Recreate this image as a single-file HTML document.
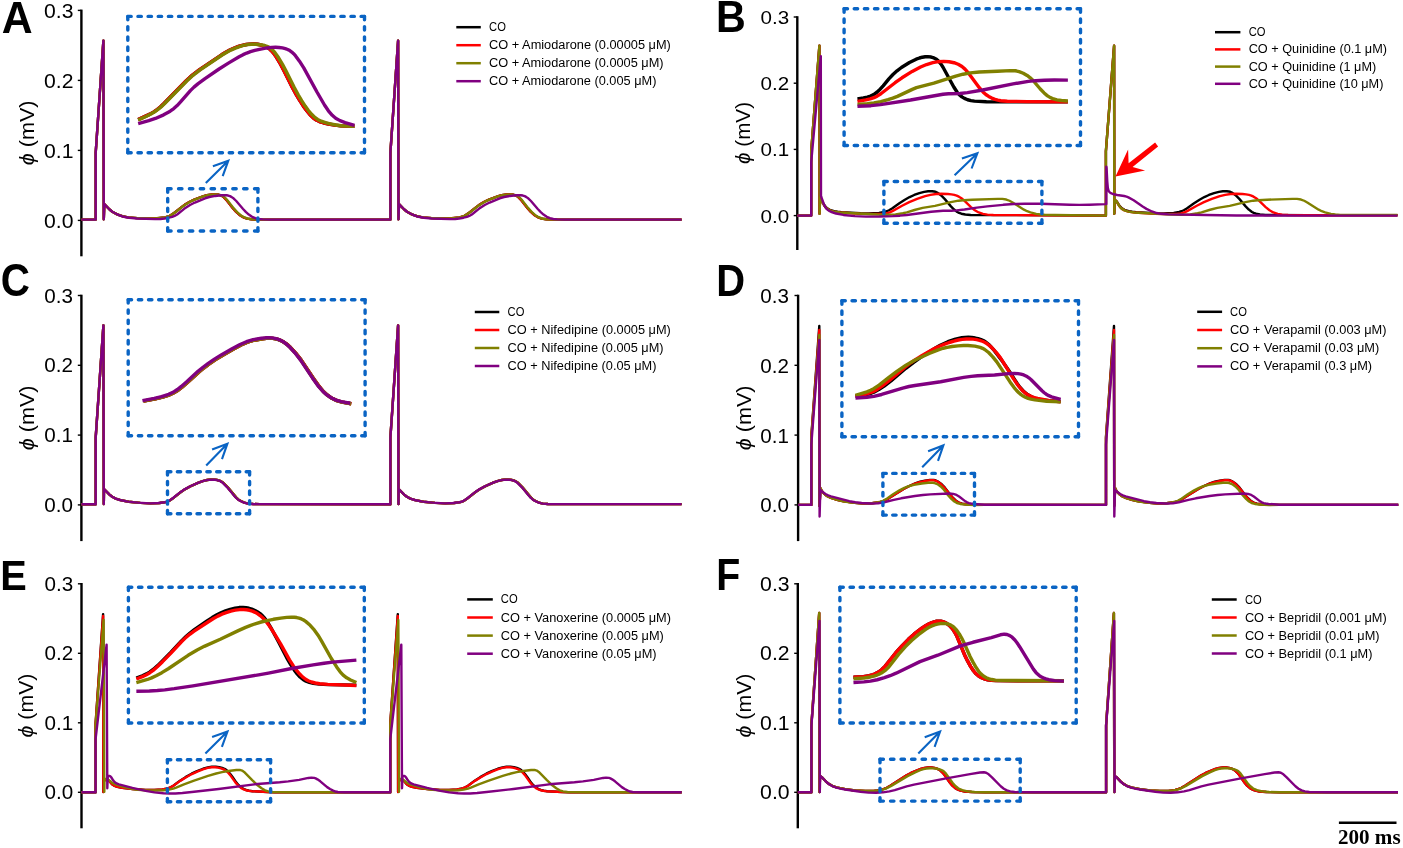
<!DOCTYPE html><html><head><meta charset="utf-8"><style>html,body{margin:0;padding:0;background:#fff;}svg{display:block;will-change:transform;}</style></head><body><svg width="1403" height="848" viewBox="0 0 1403 848">
<rect width="1403" height="848" fill="#fff"/>
<path d="M81.4 9.6 V256.3" stroke="#000" stroke-width="2.4" fill="none"/>
<path d="M77.8 220.4 H81.4" stroke="#000" stroke-width="1.4" fill="none"/>
<g transform="matrix(1.2452 0 0 1.1360 -17.57 209.29)">
<text x="73.1" y="16.6" font-size="17" text-anchor="end" font-weight="normal" font-family="Liberation Sans" >0.0</text>
</g>
<path d="M77.8 150.4 H81.4" stroke="#000" stroke-width="1.4" fill="none"/>
<g transform="matrix(1.2452 0 0 1.1360 -17.57 139.29)">
<text x="73.1" y="16.6" font-size="17" text-anchor="end" font-weight="normal" font-family="Liberation Sans" >0.1</text>
</g>
<path d="M77.8 80.4 H81.4" stroke="#000" stroke-width="1.4" fill="none"/>
<g transform="matrix(1.2452 0 0 1.1360 -17.57 69.29)">
<text x="73.1" y="16.6" font-size="17" text-anchor="end" font-weight="normal" font-family="Liberation Sans" >0.2</text>
</g>
<path d="M77.8 10.4 H81.4" stroke="#000" stroke-width="1.4" fill="none"/>
<g transform="matrix(1.2452 0 0 1.1360 -17.57 -0.71)">
<text x="73.1" y="16.6" font-size="17" text-anchor="end" font-weight="normal" font-family="Liberation Sans" >0.3</text>
</g>
<g transform="matrix(1.0932 0 0 1.1983 -3.60 -26.93)">
<text transform="translate(34.4 133.3) rotate(-90)" font-size="18" text-anchor="middle" font-family="Liberation Sans"><tspan font-style="italic">&#981;</tspan> (mV)</text>
</g>
<g transform="matrix(1.0439 0 0 1.1034 0.31 -2.90)">
<text x="1.5" y="32.5" font-size="41" text-anchor="start" font-weight="bold" font-family="Liberation Sans" >A</text>
</g>
<path d="M456.3 27.2 H480.8" stroke="#000000" stroke-width="2.5"/>
<text x="489.1" y="31.2" font-size="12" text-anchor="start" font-weight="normal" font-family="Liberation Sans" textLength="16.8" lengthAdjust="spacingAndGlyphs" >CO</text>
<path d="M456.3 45.2 H480.8" stroke="#ff0000" stroke-width="2.5"/>
<text x="489.1" y="49.2" font-size="12" text-anchor="start" font-weight="normal" font-family="Liberation Sans" textLength="181.7" lengthAdjust="spacingAndGlyphs" >CO + Amiodarone (0.00005 &#956;M)</text>
<path d="M456.3 63.2 H480.8" stroke="#808000" stroke-width="2.5"/>
<text x="489.1" y="67.2" font-size="12" text-anchor="start" font-weight="normal" font-family="Liberation Sans" textLength="174.5" lengthAdjust="spacingAndGlyphs" >CO + Amiodarone (0.0005 &#956;M)</text>
<path d="M456.3 81.2 H480.8" stroke="#800080" stroke-width="2.5"/>
<text x="489.1" y="85.2" font-size="12" text-anchor="start" font-weight="normal" font-family="Liberation Sans" textLength="167.3" lengthAdjust="spacingAndGlyphs" >CO + Amiodarone (0.005 &#956;M)</text>
<path d="M81.4 219.6L95.7 219.6L95.7 152.6L103.4 40.7L103.8 219.2L104.3 204.2L104.3 204.2L109.58 209.53L112.29 211.71L117.09 214.35L122.25 216.22L128.13 217.33L137.1 218.1L149.58 218.57L157.07 218.29L165.01 217.4L167.41 216.76L169.69 215.78L172.26 214.26L175.13 212.26L182.15 206.63L185.4 204.31L189.69 201.75L194.21 199.63L203.58 196.13L206.92 195.15L211.86 194.47L216.84 194.49L218.8 194.8L220.69 195.37L222.03 196L223.64 197.11L226.06 199.6L232.86 208.24L236.18 211.98L239.52 214.97L243.32 217.34L247.06 218.65L251.5 219.31L257.99 219.6L269.76 219.65L390.4 219.6L390.4 152.6L398.1 40.7L398.5 219.2L399 204.2L399 204.2L404.28 209.53L406.99 211.71L411.79 214.35L416.95 216.22L422.83 217.33L431.8 218.1L444.28 218.57L451.77 218.29L459.71 217.4L462.11 216.76L464.39 215.78L466.96 214.26L469.83 212.26L476.85 206.63L480.1 204.31L484.39 201.75L488.91 199.63L498.28 196.13L501.62 195.15L506.56 194.47L511.54 194.49L513.5 194.8L515.39 195.37L516.73 196L518.34 197.11L520.76 199.6L527.56 208.24L530.88 211.98L534.22 214.97L538.02 217.34L541.76 218.65L546.2 219.31L552.69 219.6L564.46 219.65L681.6 219.65" fill="none" stroke="#000000" stroke-width="2.4" stroke-linejoin="round"/>
<path d="M81.4 219.6L95.7 219.6L95.7 152.6L103.4 40.7L103.8 219.2L104.3 204.2L104.3 204.2L109.58 209.53L112.29 211.71L117.09 214.35L122.25 216.22L128.13 217.33L137.1 218.1L149.58 218.57L157.07 218.29L165.01 217.4L167.41 216.76L169.69 215.78L172.26 214.26L175.13 212.26L182.15 206.63L185.4 204.31L189.69 201.75L194.21 199.63L203.58 196.13L206.92 195.15L211.86 194.47L216.84 194.49L218.8 194.8L220.69 195.37L222.03 196L223.64 197.11L226.06 199.6L232.86 208.24L236.18 211.98L239.52 214.97L243.32 217.34L247.06 218.65L251.5 219.31L257.99 219.6L269.76 219.65L390.4 219.6L390.4 152.6L398.1 40.7L398.5 219.2L399 204.2L399 204.2L404.28 209.53L406.99 211.71L411.79 214.35L416.95 216.22L422.83 217.33L431.8 218.1L444.28 218.57L451.77 218.29L459.71 217.4L462.11 216.76L464.39 215.78L466.96 214.26L469.83 212.26L476.85 206.63L480.1 204.31L484.39 201.75L488.91 199.63L498.28 196.13L501.62 195.15L506.56 194.47L511.54 194.49L513.5 194.8L515.39 195.37L516.73 196L518.34 197.11L520.76 199.6L527.56 208.24L530.88 211.98L534.22 214.97L538.02 217.34L541.76 218.65L546.2 219.31L552.69 219.6L564.46 219.65L681.6 219.65" fill="none" stroke="#ff0000" stroke-width="2.4" stroke-linejoin="round"/>
<path d="M81.4 219.6L95.7 219.6L95.7 152.6L103.4 40.7L103.8 219.2L104.3 204.2L104.3 204.2L109.58 209.53L112.29 211.71L117.09 214.35L122.25 216.22L128.13 217.33L136.6 218.07L149.08 218.57L156.58 218.34L165.01 217.39L167.41 216.77L169.7 215.8L172.3 214.32L175.19 212.36L182.65 206.48L185.93 204.2L190.69 201.46L195.25 199.42L203.2 196.42L207.03 195.28L211.96 194.58L217.44 194.56L219.89 194.97L221.77 195.58L223.52 196.47L224.7 197.35L226.77 199.48L233.55 208.14L236.86 211.88L240.6 215.18L244.44 217.48L248.19 218.76L252.14 219.34L258.13 219.61L269.76 219.65L390.4 219.6L390.4 152.6L398.1 40.7L398.5 219.2L399 204.2L399 204.2L404.28 209.53L406.99 211.71L411.79 214.35L416.95 216.22L422.83 217.33L431.3 218.07L443.78 218.57L451.28 218.34L459.71 217.39L462.11 216.77L464.4 215.8L467 214.32L469.89 212.36L477.35 206.48L480.63 204.2L485.39 201.46L489.95 199.42L497.9 196.42L501.73 195.28L506.66 194.58L512.14 194.56L514.59 194.97L516.47 195.58L518.22 196.47L519.4 197.35L521.47 199.48L528.25 208.14L531.56 211.88L535.3 215.18L539.14 217.48L542.89 218.76L546.84 219.34L552.83 219.61L564.46 219.65L681.6 219.65" fill="none" stroke="#808000" stroke-width="2.4" stroke-linejoin="round"/>
<path d="M81.4 219.6L95.7 219.6L95.7 152.6L103.4 40.7L103.8 219.2L104.3 204.2L104.3 204.2L109.58 209.53L112.71 211.98L118.01 214.75L123.65 216.76L129.04 217.78L137.01 218.49L154.99 219.11L160.49 219.02L164.46 218.55L168.87 217.7L172.26 216.85L174.58 215.97L177.16 214.49L184.17 208.87L190.01 205.02L194.9 202.52L205.04 198.27L209.35 196.99L215.25 195.94L221.21 195.3L226.2 195.25L228.14 195.55L230.01 196.18L231.75 197.11L233.75 198.58L236.25 201.01L243.07 208.99L245.79 211.92L248.78 214.56L252.08 216.8L255.25 218.22L258.63 219.01L262.61 219.37L269.76 219.58L390.4 219.6L390.4 152.6L398.1 40.7L398.5 219.2L399 204.2L399 204.2L404.28 209.53L407.41 211.98L412.71 214.75L418.35 216.76L423.74 217.78L431.71 218.49L449.69 219.11L455.19 219.02L459.16 218.55L463.57 217.7L466.96 216.85L469.28 215.97L471.86 214.49L478.87 208.87L484.71 205.02L489.6 202.52L499.74 198.27L504.05 196.99L509.95 195.94L515.91 195.3L520.9 195.25L522.84 195.55L524.71 196.18L526.45 197.11L528.45 198.58L530.95 201.01L537.77 208.99L540.49 211.92L543.48 214.56L546.78 216.8L549.95 218.22L553.33 219.01L557.31 219.37L564.46 219.58L681.6 219.58" fill="none" stroke="#800080" stroke-width="2.4" stroke-linejoin="round"/>
<path d="M138.18 119.6L149.95 114.1L153.84 111.86L157.51 109.28L160.58 106.73L164.23 103.31L186.26 80.81L192.47 75.01L199.61 69.55L221.62 54.8L225.87 52.18L229.83 50.06L234.39 48.01L238.59 46.43L242.42 45.29L246.32 44.47L249.78 44.08L253.76 44.03L257.24 44.3L260.18 44.79L263.06 45.53L265.37 46.4L267.54 47.55L269.54 48.97L271.36 50.64L273.34 52.87L276.51 57.33L280.56 64.23L283.86 70.4L292.37 87.38L296.43 94.85L299.72 100.45L303.25 105.91L306.78 110.76L310.64 115.34L313.5 118.08L316.33 120.04L319.45 121.52L323.24 122.74L328.59 123.98L334.99 125.1L340.94 125.83L346.42 126.16L354.46 126.32" fill="none" stroke="#000000" stroke-width="3.4" stroke-linecap="butt" stroke-linejoin="round"/>
<path d="M138.18 119.6L149.95 114.1L153.84 111.86L157.51 109.28L160.58 106.73L164.23 103.31L186.26 80.81L192.47 75.01L199.61 69.55L221.62 54.8L225.87 52.18L229.83 50.06L234.39 48.01L238.59 46.43L242.42 45.29L246.32 44.47L249.78 44.08L253.76 44.03L257.24 44.3L260.18 44.79L263.06 45.53L265.37 46.4L267.54 47.55L269.54 48.97L271.36 50.64L273.34 52.87L276.51 57.33L280.56 64.23L283.86 70.4L292.37 87.38L296.43 94.85L299.72 100.45L303.25 105.91L306.78 110.76L310.64 115.34L313.5 118.08L316.33 120.04L319.45 121.52L323.24 122.74L328.59 123.98L334.99 125.1L340.94 125.83L346.42 126.16L354.46 126.32" fill="none" stroke="#ff0000" stroke-width="3.4" stroke-linecap="butt" stroke-linejoin="round"/>
<path d="M138.18 119.96L145.95 116.52L150.43 114.33L154.32 112.07L157.98 109.48L161.04 106.92L164.69 103.5L186.77 81.05L193.01 75.28L200.16 69.83L222.13 55.02L226.4 52.43L230.82 50.11L235.38 48.08L239.6 46.53L243.43 45.43L247.35 44.67L251.31 44.28L255.3 44.24L261.75 44.85L264.65 45.49L266.98 46.29L269.17 47.38L271.18 48.77L273.01 50.43L274.99 52.65L278.45 57.53L282.49 64.42L285.78 70.6L294.29 87.59L298.36 95.05L301.66 100.65L305.19 106.1L308.42 110.55L311.65 114.35L314.87 117.44L317.7 119.44L321.24 121.2L325.48 122.65L330.32 123.88L336.2 125.04L341.15 125.7L346.13 126.06L354.46 126.32" fill="none" stroke="#808000" stroke-width="3.4" stroke-linecap="butt" stroke-linejoin="round"/>
<path d="M138.18 123.6L148.78 120.69L155.4 118.44L163.65 114.85L170.17 111.18L173.8 108.55L177.14 105.56L180.56 101.93L190.39 90.6L193.97 87.13L198.18 83.6L205.03 78.57L219.07 68.99L228.38 63.13L239.13 56.75L243.11 54.67L246.75 53.03L250.5 51.65L254.81 50.39L260.66 49.07L267.06 47.94L271.52 47.4L275.5 47.26L278.98 47.45L282.43 47.93L285.32 48.63L287.63 49.48L289.8 50.62L291.79 52.05L293.62 53.72L295.61 55.94L299.46 61.15L303.77 67.89L316.97 92.01L324.5 104.98L328.39 110.79L332.28 115.32L335.68 118.19L339.99 120.64L345.11 122.6L354.46 125.41" fill="none" stroke="#800080" stroke-width="3.4" stroke-linecap="butt" stroke-linejoin="round"/>
<path d="M127.8 16.4L364.5 16.4" fill="none" stroke="#0a64c4" stroke-width="3.4" stroke-dasharray="3.400 6.743" stroke-linecap="round"/>
<path d="M127.8 16.4L127.8 152.7" fill="none" stroke="#0a64c4" stroke-width="3.4" stroke-dasharray="3.400 6.823" stroke-linecap="round"/>
<path d="M127.8 152.7L364.5 152.7" fill="none" stroke="#0a64c4" stroke-width="3.4" stroke-dasharray="3.400 6.743" stroke-linecap="round"/>
<path d="M364.5 16.4L364.5 152.7" fill="none" stroke="#0a64c4" stroke-width="3.4" stroke-dasharray="3.400 6.823" stroke-linecap="round"/>
<path d="M167.7 188.8L257.9 188.8" fill="none" stroke="#0a64c4" stroke-width="3.4" stroke-dasharray="3.400 7.450" stroke-linecap="round"/>
<path d="M167.7 188.8L167.7 231" fill="none" stroke="#0a64c4" stroke-width="3.4" stroke-dasharray="3.400 6.300" stroke-linecap="round"/>
<path d="M167.7 231L257.9 231" fill="none" stroke="#0a64c4" stroke-width="3.4" stroke-dasharray="3.400 7.450" stroke-linecap="round"/>
<path d="M257.9 188.8L257.9 231" fill="none" stroke="#0a64c4" stroke-width="3.4" stroke-dasharray="3.400 6.300" stroke-linecap="round"/>
<path d="M205.8 183.1 L228.3 160.7 M222.7 176.1 L228.3 160.7 L212.9 166.3" fill="none" stroke="#0a64c4" stroke-width="2.1" stroke-linecap="butt" stroke-linejoin="miter"/>
<path d="M797.3 16.2 V250" stroke="#000" stroke-width="2.4" fill="none"/>
<path d="M793.7 215.6 H797.3" stroke="#000" stroke-width="1.4" fill="none"/>
<g transform="matrix(1.2120 0 0 1.1046 -167.10 196.97)">
<text x="789" y="23.2" font-size="17" text-anchor="end" font-weight="normal" font-family="Liberation Sans" >0.0</text>
</g>
<path d="M793.7 149.4 H797.3" stroke="#000" stroke-width="1.4" fill="none"/>
<g transform="matrix(1.2120 0 0 1.1046 -167.10 130.77)">
<text x="789" y="23.2" font-size="17" text-anchor="end" font-weight="normal" font-family="Liberation Sans" >0.1</text>
</g>
<path d="M793.7 83.2 H797.3" stroke="#000" stroke-width="1.4" fill="none"/>
<g transform="matrix(1.2120 0 0 1.1046 -167.10 64.57)">
<text x="789" y="23.2" font-size="17" text-anchor="end" font-weight="normal" font-family="Liberation Sans" >0.2</text>
</g>
<path d="M793.7 17 H797.3" stroke="#000" stroke-width="1.4" fill="none"/>
<g transform="matrix(1.2120 0 0 1.1046 -167.10 -1.63)">
<text x="789" y="23.2" font-size="17" text-anchor="end" font-weight="normal" font-family="Liberation Sans" >0.3</text>
</g>
<g transform="matrix(1.0932 0 0 1.1475 -70.53 -20.00)">
<text transform="translate(750.3 133.3) rotate(-90)" font-size="18" text-anchor="middle" font-family="Liberation Sans"><tspan font-style="italic">&#981;</tspan> (mV)</text>
</g>
<g transform="matrix(1.0051 0 0 1.0750 -5.35 -2.69)">
<text x="717.6" y="32.4" font-size="41" text-anchor="start" font-weight="bold" font-family="Liberation Sans" >B</text>
</g>
<path d="M1215 32.2 H1240.4" stroke="#000000" stroke-width="2.5"/>
<text x="1248.7" y="36.2" font-size="12" text-anchor="start" font-weight="normal" font-family="Liberation Sans" textLength="16.8" lengthAdjust="spacingAndGlyphs" >CO</text>
<path d="M1215 49.4 H1240.4" stroke="#ff0000" stroke-width="2.5"/>
<text x="1248.7" y="53.4" font-size="12" text-anchor="start" font-weight="normal" font-family="Liberation Sans" textLength="138.3" lengthAdjust="spacingAndGlyphs" >CO + Quinidine (0.1 &#956;M)</text>
<path d="M1215 66.6 H1240.4" stroke="#808000" stroke-width="2.5"/>
<text x="1248.7" y="70.6" font-size="12" text-anchor="start" font-weight="normal" font-family="Liberation Sans" textLength="127.5" lengthAdjust="spacingAndGlyphs" >CO + Quinidine (1 &#956;M)</text>
<path d="M1215 83.8 H1240.4" stroke="#800080" stroke-width="2.5"/>
<text x="1248.7" y="87.8" font-size="12" text-anchor="start" font-weight="normal" font-family="Liberation Sans" textLength="134.7" lengthAdjust="spacingAndGlyphs" >CO + Quinidine (10 &#956;M)</text>
<path d="M797.3 215.6L811.2 215.6L811.2 151.2L819.4 45.7L819.6 213.8L820 200L820 200L821.07 200.57L822 201.43L824.88 205.92L826.88 208.09L829.83 209.86L834.11 211.18L837.55 211.76L841.53 212.15L860.5 213.27L868.49 213.38L878.98 212.86L884.39 212L886.77 211.25L889.04 210.25L892.04 208.46L899.38 203.25L904.85 199.75L909.64 197.06L914.19 194.98L919.36 193.11L924.18 191.84L928.13 191.26L932.11 191.19L934.08 191.45L935.96 192.01L937.73 192.88L939.38 193.99L941.65 195.93L944.83 199.11L950.95 206.37L954.09 209.58L957.28 211.95L959.05 212.86L961.38 213.72L965.28 214.53L970.75 214.95L1012.7 215.11L1105.9 215.6L1105.9 151.2L1114.1 45.7L1114.3 213.8L1114.7 200L1114.7 200L1115.77 200.57L1116.7 201.43L1119.58 205.92L1121.58 208.09L1124.53 209.86L1128.81 211.18L1132.25 211.76L1136.23 212.15L1155.2 213.27L1163.19 213.38L1173.68 212.86L1179.09 212L1181.47 211.25L1183.74 210.25L1186.74 208.46L1194.08 203.25L1199.55 199.75L1204.34 197.06L1208.89 194.98L1214.06 193.11L1218.88 191.84L1222.83 191.26L1226.81 191.19L1228.78 191.45L1230.66 192.01L1232.43 192.88L1234.08 193.99L1236.35 195.93L1239.53 199.11L1245.65 206.37L1248.79 209.58L1251.98 211.95L1253.75 212.86L1256.08 213.72L1259.98 214.53L1265.45 214.95L1307.4 215.11L1397.5 215.11" fill="none" stroke="#000000" stroke-width="2.4" stroke-linejoin="round"/>
<path d="M797.3 215.6L811.2 215.6L811.2 151.2L819.4 45.7L819.6 213.8L820 200L820 200L821.02 200.58L821.89 201.45L824.6 206.04L825.82 207.59L826.89 208.6L829.84 210.37L833.63 211.58L840.05 212.49L859.51 213.7L872.01 214.03L882.01 213.92L886.46 213.43L889.76 212.37L892.9 210.84L902.08 205.74L909.25 202.2L917.1 198.93L925.14 196.18L930.46 194.84L935.9 194.02L941.38 193.76L947.88 194L951.36 194.34L954.3 194.86L956.66 195.62L958.9 196.69L961.43 198.3L963.79 200.14L970.97 207.09L974.82 210.26L978.72 212.44L982.98 213.83L987.4 214.63L993.38 214.95L1036.94 215.23L1105.9 215.6L1105.9 151.2L1114.1 45.7L1114.3 213.8L1114.7 200L1114.7 200L1115.72 200.58L1116.59 201.45L1119.3 206.04L1120.52 207.59L1121.59 208.6L1124.54 210.37L1128.33 211.58L1134.75 212.49L1154.21 213.7L1166.71 214.03L1176.71 213.92L1181.16 213.43L1184.46 212.37L1187.6 210.84L1196.78 205.74L1203.95 202.2L1211.8 198.93L1219.84 196.18L1225.16 194.84L1230.6 194.02L1236.08 193.76L1242.58 194L1246.06 194.34L1249 194.86L1251.36 195.62L1253.6 196.69L1256.13 198.3L1258.49 200.14L1265.67 207.09L1269.52 210.26L1273.42 212.44L1277.68 213.83L1282.1 214.63L1288.08 214.95L1331.64 215.23L1397.5 215.23" fill="none" stroke="#ff0000" stroke-width="2.4" stroke-linejoin="round"/>
<path d="M797.3 215.6L811.2 215.6L811.2 151.2L819.4 45.7L819.6 213.8L820 200L820 200L821.02 200.58L821.89 201.45L824.6 206.04L825.82 207.59L826.89 208.6L829.84 210.37L833.63 211.58L839.55 212.44L853.03 213.3L877.5 214.53L886.99 214.72L895.48 214.33L902.9 213.28L906.79 212.36L915.4 209.76L922.66 207.89L934.98 205.83L949.57 202.34L958.41 200.69L963.38 200.19L972.37 199.75L997.85 198.84L1002.35 198.89L1006.27 199.52L1009.52 200.75L1012.58 202.43L1023.97 209.66L1027.1 211.21L1030.39 212.39L1036.2 213.84L1040.64 214.55L1045.63 214.83L1055.11 214.99L1105.9 215.6L1105.9 151.2L1114.1 45.7L1114.3 213.8L1114.7 200L1114.7 200L1115.72 200.58L1116.59 201.45L1119.3 206.04L1120.52 207.59L1121.59 208.6L1124.54 210.37L1128.33 211.58L1134.25 212.44L1147.73 213.3L1172.2 214.53L1181.69 214.72L1190.18 214.33L1197.6 213.28L1201.49 212.36L1210.1 209.76L1217.36 207.89L1229.68 205.83L1244.27 202.34L1253.11 200.69L1258.08 200.19L1267.07 199.75L1292.55 198.84L1297.05 198.89L1300.97 199.52L1304.22 200.75L1307.28 202.43L1318.67 209.66L1321.8 211.21L1325.09 212.39L1330.9 213.84L1335.34 214.55L1340.33 214.83L1349.81 214.99L1397.5 214.99" fill="none" stroke="#808000" stroke-width="2.4" stroke-linejoin="round"/>
<path d="M797.3 215.6L811.2 215.6L811.2 162.4L820.8 56.2L821 195.9L821.3 197L821.3 197L823.77 203.99L825.28 207.12L826.45 208.69L827.52 209.71L829.13 210.84L830.9 211.75L836.08 213.52L843.44 214.94L854.88 216.09L865.87 216.62L879.36 216.57L892.86 216.12L899.84 215.68L906.8 214.94L931.1 211.78L943.06 210.82L951.55 210.72L956.53 210.38L964.48 209.49L976.85 207.66L987.27 206.4L1003.19 204.82L1013.66 204.04L1024.66 203.72L1040.65 203.69L1069.63 204.74L1079.13 204.92L1089.63 204.72L1105.4 204.08L1106.3 204.08L1106.3 166.6L1106.3 166.6L1106.58 167.95L1107.26 181.26L1107.81 187.73L1108.52 190.56L1109.25 191.77L1109.89 192.45L1111.49 193.48L1113.82 194.28L1117.23 194.99L1124.15 196.02L1126.56 196.65L1128.41 197.37L1133.67 200.24L1142.66 206.56L1146.5 208.89L1151.91 211.47L1156.65 213.02L1161.07 213.81L1168.55 214.33L1205.54 215.07L1236.54 215.44L1300 215.6L1397.5 215.6" fill="none" stroke="#800080" stroke-width="2.4" stroke-linejoin="round"/>
<path d="M857.46 98.95L863.39 98.03L867.28 97.18L870.57 96.09L873.67 94.55L876.89 92.25L880.16 89.18L883.15 85.84L888.85 78.88L892.96 74.52L897.04 70.84L901.41 67.52L909.46 62.49L916.18 59.21L919.46 58.01L922.33 57.22L925.26 56.74L927.73 56.64L931.13 57.03L933.92 57.92L936.46 59.33L939.01 61.59L940.86 63.9L943.02 67.25L953.8 86.99L957.03 92.02L959.29 94.64L961.91 96.88L964.43 98.42L967.62 99.75L970.98 100.62L974.42 101.14L986.4 101.78L1067.89 101.92" fill="none" stroke="#000000" stroke-width="3.4" stroke-linecap="butt" stroke-linejoin="round"/>
<path d="M857.46 101.39L865.83 99.89L870.21 98.89L873.99 97.66L877.12 96.19L880.87 93.75L895.1 82.73L902.01 77.8L912.18 71.43L920.57 66.99L926.57 64.53L932.79 62.67L938.18 61.68L943.65 61.35L949.11 61.73L953.98 62.72L958.17 64.26L961.99 66.53L964.99 69.11L967.67 72.06L979.31 87.69L983.22 92.2L985.83 94.49L988.7 96.46L991.77 98.09L995 99.36L997.87 100.17L1000.81 100.72L1007.27 101.22L1027.26 101.59L1067.89 101.92" fill="none" stroke="#ff0000" stroke-width="3.4" stroke-linecap="butt" stroke-linejoin="round"/>
<path d="M857.46 104.54L867.43 103.7L873.87 102.89L880.74 101.57L888 99.72L892.77 98.21L897.42 96.41L912.32 89.34L916.47 87.66L920.3 86.54L933.87 83.14L955.78 76.15L963.03 74.23L970.4 72.93L979.35 71.96L997.33 71.31L1010.3 70.58L1015.27 70.77L1019.13 71.56L1023.26 73.22L1027.13 75.47L1029.93 77.55L1032.85 80.25L1040.3 88.98L1044.11 92.94L1047.51 95.83L1050.44 97.66L1053.63 98.97L1056.99 99.82L1061.43 100.5L1067.89 101.04" fill="none" stroke="#808000" stroke-width="3.4" stroke-linecap="butt" stroke-linejoin="round"/>
<path d="M857.46 106.28L870.95 105.68L880.39 104.68L910.53 100.04L943.01 94.24L948.48 93.78L959.97 93.45L967.42 92.65L982.69 89.99L1013.08 83.88L1028.38 81.43L1035.84 80.68L1044.33 80.25L1054.32 80.05L1067.89 80.09" fill="none" stroke="#800080" stroke-width="3.4" stroke-linecap="butt" stroke-linejoin="round"/>
<path d="M844.1 8.8L1080.5 8.8" fill="none" stroke="#0a64c4" stroke-width="3.4" stroke-dasharray="3.400 6.730" stroke-linecap="round"/>
<path d="M844.1 8.8L844.1 145.5" fill="none" stroke="#0a64c4" stroke-width="3.4" stroke-dasharray="3.400 6.854" stroke-linecap="round"/>
<path d="M844.1 145.5L1080.5 145.5" fill="none" stroke="#0a64c4" stroke-width="3.4" stroke-dasharray="3.400 6.730" stroke-linecap="round"/>
<path d="M1080.5 8.8L1080.5 145.5" fill="none" stroke="#0a64c4" stroke-width="3.4" stroke-dasharray="3.400 6.854" stroke-linecap="round"/>
<path d="M883.9 181.5L1041.9 181.5" fill="none" stroke="#0a64c4" stroke-width="3.4" stroke-dasharray="3.400 6.907" stroke-linecap="round"/>
<path d="M883.9 181.5L883.9 223.2" fill="none" stroke="#0a64c4" stroke-width="3.4" stroke-dasharray="3.400 6.175" stroke-linecap="round"/>
<path d="M883.9 223.2L1041.9 223.2" fill="none" stroke="#0a64c4" stroke-width="3.4" stroke-dasharray="3.400 6.907" stroke-linecap="round"/>
<path d="M1041.9 181.5L1041.9 223.2" fill="none" stroke="#0a64c4" stroke-width="3.4" stroke-dasharray="3.400 6.175" stroke-linecap="round"/>
<path d="M954.6 175.3 L977.4 153.2 M971.6 168.5 L977.4 153.2 L961.9 158.6" fill="none" stroke="#0a64c4" stroke-width="2.1" stroke-linecap="butt" stroke-linejoin="miter"/>
<path d="M81.4 294.7 V541.1" stroke="#000" stroke-width="2.4" fill="none"/>
<path d="M77.8 504.9 H81.4" stroke="#000" stroke-width="1.4" fill="none"/>
<g transform="matrix(1.2141 0 0 1.1627 -15.71 161.18)">
<text x="73.1" y="301.7" font-size="17" text-anchor="end" font-weight="normal" font-family="Liberation Sans" >0.0</text>
</g>
<path d="M77.8 435.1 H81.4" stroke="#000" stroke-width="1.4" fill="none"/>
<g transform="matrix(1.2141 0 0 1.1627 -15.71 91.38)">
<text x="73.1" y="301.7" font-size="17" text-anchor="end" font-weight="normal" font-family="Liberation Sans" >0.1</text>
</g>
<path d="M77.8 365.3 H81.4" stroke="#000" stroke-width="1.4" fill="none"/>
<g transform="matrix(1.2141 0 0 1.1627 -15.71 21.58)">
<text x="73.1" y="301.7" font-size="17" text-anchor="end" font-weight="normal" font-family="Liberation Sans" >0.2</text>
</g>
<path d="M77.8 295.5 H81.4" stroke="#000" stroke-width="1.4" fill="none"/>
<g transform="matrix(1.2141 0 0 1.1627 -15.71 -48.22)">
<text x="73.1" y="301.7" font-size="17" text-anchor="end" font-weight="normal" font-family="Liberation Sans" >0.3</text>
</g>
<g transform="matrix(1.0932 0 0 1.2020 -3.60 -84.65)">
<text transform="translate(34.4 418.1) rotate(-90)" font-size="18" text-anchor="middle" font-family="Liberation Sans"><tspan font-style="italic">&#981;</tspan> (mV)</text>
</g>
<g transform="matrix(0.9858 0 0 1.1115 0.03 -32.30)">
<text x="0.7" y="295.6" font-size="41" text-anchor="start" font-weight="bold" font-family="Liberation Sans" >C</text>
</g>
<path d="M474.8 312 H499.3" stroke="#000000" stroke-width="2.5"/>
<text x="507.6" y="316" font-size="12" text-anchor="start" font-weight="normal" font-family="Liberation Sans" textLength="16.8" lengthAdjust="spacingAndGlyphs" >CO</text>
<path d="M474.8 330 H499.3" stroke="#ff0000" stroke-width="2.5"/>
<text x="507.6" y="334" font-size="12" text-anchor="start" font-weight="normal" font-family="Liberation Sans" textLength="163.2" lengthAdjust="spacingAndGlyphs" >CO + Nifedipine (0.0005 &#956;M)</text>
<path d="M474.8 348 H499.3" stroke="#808000" stroke-width="2.5"/>
<text x="507.6" y="352" font-size="12" text-anchor="start" font-weight="normal" font-family="Liberation Sans" textLength="156" lengthAdjust="spacingAndGlyphs" >CO + Nifedipine (0.005 &#956;M)</text>
<path d="M474.8 366 H499.3" stroke="#800080" stroke-width="2.5"/>
<text x="507.6" y="370" font-size="12" text-anchor="start" font-weight="normal" font-family="Liberation Sans" textLength="148.8" lengthAdjust="spacingAndGlyphs" >CO + Nifedipine (0.05 &#956;M)</text>
<path d="M81.4 504.3L95.7 504.3L95.7 437.3L103.4 325.4L103.8 504L104 489L104 489L109.51 494.57L112.19 496.79L115.7 498.64L120.46 500.13L128.8 501.74L140.24 502.84L150.73 503.41L159.71 502.98L165.64 502.14L167.54 501.57L169.34 500.76L172.25 498.85L180.87 492.03L184.6 489.52L190.29 486.38L198.51 482.72L202.71 481.12L207.06 480.01L211.02 479.55L215 479.64L217.46 480.03L219.82 480.76L221.59 481.64L223.59 483.09L227.77 487.38L236.06 497.38L238.25 499.4L240.75 501.01L244.41 502.59L248.27 503.57L253.24 504.05L259.79 504.14L390.4 504.3L390.4 437.3L398.1 325.4L398.5 504L398.7 489L398.7 489L404.21 494.57L406.89 496.79L410.4 498.64L415.16 500.13L423.5 501.74L434.94 502.84L445.43 503.41L454.41 502.98L460.34 502.14L462.24 501.57L464.04 500.76L466.95 498.85L475.57 492.03L479.3 489.52L484.99 486.38L493.21 482.72L497.41 481.12L501.76 480.01L505.72 479.55L509.7 479.64L512.16 480.03L514.52 480.76L516.29 481.64L518.29 483.09L522.47 487.38L530.76 497.38L532.95 499.4L535.45 501.01L539.11 502.59L542.97 503.57L547.94 504.05L554.49 504.14L681.6 504.14" fill="none" stroke="#000000" stroke-width="2.4" stroke-linejoin="round"/>
<path d="M81.4 504.3L95.7 504.3L95.7 437.3L103.4 325.4L103.8 504L104 489L104 489L109.51 494.57L112.19 496.79L115.7 498.64L120.46 500.13L128.8 501.74L140.24 502.84L150.73 503.41L159.71 502.98L165.64 502.14L167.54 501.57L169.34 500.76L172.25 498.85L180.87 492.03L184.6 489.52L190.29 486.38L198.51 482.72L202.71 481.12L207.06 480.01L211.02 479.55L215 479.64L217.46 480.03L219.82 480.76L221.59 481.64L223.59 483.09L227.77 487.38L236.06 497.38L238.25 499.4L240.75 501.01L244.41 502.59L248.27 503.57L253.24 504.05L259.79 504.14L390.4 504.3L390.4 437.3L398.1 325.4L398.5 504L398.7 489L398.7 489L404.21 494.57L406.89 496.79L410.4 498.64L415.16 500.13L423.5 501.74L434.94 502.84L445.43 503.41L454.41 502.98L460.34 502.14L462.24 501.57L464.04 500.76L466.95 498.85L475.57 492.03L479.3 489.52L484.99 486.38L493.21 482.72L497.41 481.12L501.76 480.01L505.72 479.55L509.7 479.64L512.16 480.03L514.52 480.76L516.29 481.64L518.29 483.09L522.47 487.38L530.76 497.38L532.95 499.4L535.45 501.01L539.11 502.59L542.97 503.57L547.94 504.05L554.49 504.14L681.6 504.14" fill="none" stroke="#ff0000" stroke-width="2.4" stroke-linejoin="round"/>
<path d="M81.4 504.3L95.7 504.3L95.7 437.3L103.4 325.4L103.8 504L104 489L104 489L109.51 494.57L112.19 496.79L115.7 498.64L120.46 500.13L128.8 501.74L140.24 502.84L150.73 503.41L159.71 502.98L165.64 502.14L167.54 501.57L169.34 500.76L172.25 498.85L180.87 492.03L184.6 489.52L190.29 486.38L198.51 482.72L202.71 481.12L207.06 480.01L211.02 479.55L215 479.64L217.46 480.03L219.82 480.76L221.59 481.64L223.59 483.09L227.77 487.38L236.06 497.38L238.25 499.4L240.75 501.01L244.41 502.59L248.27 503.57L253.24 504.05L259.79 504.14L390.4 504.3L390.4 437.3L398.1 325.4L398.5 504L398.7 489L398.7 489L404.21 494.57L406.89 496.79L410.4 498.64L415.16 500.13L423.5 501.74L434.94 502.84L445.43 503.41L454.41 502.98L460.34 502.14L462.24 501.57L464.04 500.76L466.95 498.85L475.57 492.03L479.3 489.52L484.99 486.38L493.21 482.72L497.41 481.12L501.76 480.01L505.72 479.55L509.7 479.64L512.16 480.03L514.52 480.76L516.29 481.64L518.29 483.09L522.47 487.38L530.76 497.38L532.95 499.4L535.45 501.01L539.11 502.59L542.97 503.57L547.94 504.05L554.49 504.14L681.6 504.14" fill="none" stroke="#808000" stroke-width="2.4" stroke-linejoin="round"/>
<path d="M81.4 504.3L95.7 504.3L95.7 437.3L103.4 325.4L103.8 504L104 489L104 489L109.51 494.57L112.19 496.79L115.7 498.64L119.98 500L127.81 501.59L137.75 502.65L150.23 503.41L158.21 503.06L164.65 502.24L167.05 501.6L168.88 500.84L171.41 499.27L180.42 492.15L184.57 489.35L190.28 486.26L198.53 482.67L202.74 481.11L206.61 480.14L210.57 479.65L214.56 479.72L217.01 480.09L218.92 480.63L220.71 481.45L222.76 482.85L227 487.06L235.65 497.41L237.87 499.4L240.38 501L244.04 502.59L247.9 503.57L252.86 504.05L259.79 504.14L390.4 504.3L390.4 437.3L398.1 325.4L398.5 504L398.7 489L398.7 489L404.21 494.57L406.89 496.79L410.4 498.64L414.68 500L422.51 501.59L432.45 502.65L444.93 503.41L452.91 503.06L459.35 502.24L461.75 501.6L463.58 500.84L466.11 499.27L475.12 492.15L479.27 489.35L484.98 486.26L493.23 482.67L497.44 481.11L501.31 480.14L505.27 479.65L509.26 479.72L511.71 480.09L513.62 480.63L515.41 481.45L517.46 482.85L521.7 487.06L530.35 497.41L532.57 499.4L535.08 501L538.74 502.59L542.6 503.57L547.56 504.05L554.49 504.14L681.6 504.14" fill="none" stroke="#800080" stroke-width="2.4" stroke-linejoin="round"/>
<path d="M143.51 401.17L155.3 398.95L162.58 397.17L169.68 394.79L175.05 392.18L178.4 390.02L182.34 386.96L188 382.04L199.02 371.88L204.06 367.77L209.27 363.88L215.47 359.67L222.7 355.2L233.12 349.26L241.06 345.03L247.46 342.23L254.15 340.22L262.5 338.73L266.48 338.34L269.97 338.24L272.94 338.41L275.88 338.88L278.74 339.67L281.05 340.58L283.25 341.71L285.75 343.33L288.1 345.17L290.66 347.54L295.71 353.07L301.26 360.15L313.49 378.43L319.57 386.98L323.49 391.5L327.56 395.18L332.06 398.28L337 400.61L342.26 402.12L351.32 403.79" fill="none" stroke="#000000" stroke-width="3.4" stroke-linecap="butt" stroke-linejoin="round"/>
<path d="M143.51 401.17L155.3 398.95L162.58 397.17L169.68 394.79L175.05 392.18L178.4 390.02L182.34 386.96L188 382.04L199.02 371.88L204.06 367.77L209.27 363.88L215.47 359.67L222.7 355.2L233.12 349.26L241.06 345.03L247.46 342.23L254.15 340.22L262.5 338.73L266.48 338.34L269.97 338.24L272.94 338.41L275.88 338.88L278.74 339.67L281.05 340.58L283.25 341.71L285.75 343.33L288.1 345.17L290.66 347.54L295.71 353.07L301.26 360.15L313.49 378.43L319.57 386.98L323.49 391.5L327.56 395.18L332.06 398.28L337 400.61L342.26 402.12L351.32 403.79" fill="none" stroke="#ff0000" stroke-width="3.4" stroke-linecap="butt" stroke-linejoin="round"/>
<path d="M143.16 401.17L154.95 398.95L162.23 397.17L169.33 394.79L174.71 392.18L178.05 390.02L181.99 386.96L187.66 382.04L198.67 371.88L203.71 367.77L208.92 363.88L215.12 359.67L222.35 355.2L232.77 349.26L240.71 345.03L247.11 342.23L253.8 340.22L262.15 338.73L266.13 338.34L269.62 338.24L272.59 338.41L275.53 338.88L278.39 339.67L280.7 340.58L282.9 341.71L285.4 343.33L287.75 345.17L290.31 347.54L295.36 353.07L300.91 360.15L313.14 378.43L319.22 386.98L323.15 391.5L327.21 395.18L331.71 398.28L336.65 400.61L341.91 402.12L350.97 403.79" fill="none" stroke="#808000" stroke-width="3.4" stroke-linecap="butt" stroke-linejoin="round"/>
<path d="M142.46 400.65L154.25 398.43L161.53 396.65L168.63 394.27L174.01 391.66L177.35 389.5L181.3 386.44L186.96 381.52L197.98 371.35L203.01 367.24L208.22 363.36L214.42 359.15L221.65 354.67L232.07 348.73L240.01 344.5L246.41 341.7L253.1 339.69L261.46 338.2L265.43 337.82L268.92 337.72L271.89 337.89L274.83 338.35L277.7 339.15L280 340.06L282.2 341.19L284.7 342.8L287.05 344.65L289.61 347.02L294.66 352.55L300.21 359.63L312.44 377.91L318.52 386.46L322.45 390.98L326.51 394.65L331.01 397.76L335.95 400.09L341.21 401.6L350.27 403.27" fill="none" stroke="#800080" stroke-width="3.4" stroke-linecap="butt" stroke-linejoin="round"/>
<path d="M128.2 299.7L365.1 299.7" fill="none" stroke="#0a64c4" stroke-width="3.4" stroke-dasharray="3.400 6.752" stroke-linecap="round"/>
<path d="M128.2 299.7L128.2 435.8" fill="none" stroke="#0a64c4" stroke-width="3.4" stroke-dasharray="3.400 6.808" stroke-linecap="round"/>
<path d="M128.2 435.8L365.1 435.8" fill="none" stroke="#0a64c4" stroke-width="3.4" stroke-dasharray="3.400 6.752" stroke-linecap="round"/>
<path d="M365.1 299.7L365.1 435.8" fill="none" stroke="#0a64c4" stroke-width="3.4" stroke-dasharray="3.400 6.808" stroke-linecap="round"/>
<path d="M167.5 471.7L249.6 471.7" fill="none" stroke="#0a64c4" stroke-width="3.4" stroke-dasharray="3.400 6.437" stroke-linecap="round"/>
<path d="M167.5 471.7L167.5 513.8" fill="none" stroke="#0a64c4" stroke-width="3.4" stroke-dasharray="3.400 6.275" stroke-linecap="round"/>
<path d="M167.5 513.8L249.6 513.8" fill="none" stroke="#0a64c4" stroke-width="3.4" stroke-dasharray="3.400 6.437" stroke-linecap="round"/>
<path d="M249.6 471.7L249.6 513.8" fill="none" stroke="#0a64c4" stroke-width="3.4" stroke-dasharray="3.400 6.275" stroke-linecap="round"/>
<path d="M206.2 465.6 L227.4 443.7 M222 459.2 L227.4 443.7 L212.1 449.6" fill="none" stroke="#0a64c4" stroke-width="2.1" stroke-linecap="butt" stroke-linejoin="miter"/>
<path d="M798.1 294.7 V541.1" stroke="#000" stroke-width="2.4" fill="none"/>
<path d="M794.5 504.9 H798.1" stroke="#000" stroke-width="1.4" fill="none"/>
<g transform="matrix(1.2120 0 0 1.1949 -168.33 151.86)">
<text x="789.8" y="301.7" font-size="17" text-anchor="end" font-weight="normal" font-family="Liberation Sans" >0.0</text>
</g>
<path d="M794.5 435.1 H798.1" stroke="#000" stroke-width="1.4" fill="none"/>
<g transform="matrix(1.2120 0 0 1.1949 -168.33 82.06)">
<text x="789.8" y="301.7" font-size="17" text-anchor="end" font-weight="normal" font-family="Liberation Sans" >0.1</text>
</g>
<path d="M794.5 365.3 H798.1" stroke="#000" stroke-width="1.4" fill="none"/>
<g transform="matrix(1.2120 0 0 1.1949 -168.33 12.26)">
<text x="789.8" y="301.7" font-size="17" text-anchor="end" font-weight="normal" font-family="Liberation Sans" >0.2</text>
</g>
<path d="M794.5 295.5 H798.1" stroke="#000" stroke-width="1.4" fill="none"/>
<g transform="matrix(1.2120 0 0 1.1949 -168.33 -57.54)">
<text x="789.8" y="301.7" font-size="17" text-anchor="end" font-weight="normal" font-family="Liberation Sans" >0.3</text>
</g>
<g transform="matrix(1.0966 0 0 1.2020 -73.01 -84.65)">
<text transform="translate(751.1 418.1) rotate(-90)" font-size="18" text-anchor="middle" font-family="Liberation Sans"><tspan font-style="italic">&#981;</tspan> (mV)</text>
</g>
<g transform="matrix(0.9739 0 0 1.0665 19.06 -19.73)">
<text x="716" y="295.6" font-size="41" text-anchor="start" font-weight="bold" font-family="Liberation Sans" >D</text>
</g>
<path d="M1197.2 311.8 H1222.1" stroke="#000000" stroke-width="2.5"/>
<text x="1230.1" y="315.8" font-size="12" text-anchor="start" font-weight="normal" font-family="Liberation Sans" textLength="16.8" lengthAdjust="spacingAndGlyphs" >CO</text>
<path d="M1197.2 330 H1222.1" stroke="#ff0000" stroke-width="2.5"/>
<text x="1230.1" y="334" font-size="12" text-anchor="start" font-weight="normal" font-family="Liberation Sans" textLength="156.4" lengthAdjust="spacingAndGlyphs" >CO + Verapamil (0.003 &#956;M)</text>
<path d="M1197.2 348.2 H1222.1" stroke="#808000" stroke-width="2.5"/>
<text x="1230.1" y="352.2" font-size="12" text-anchor="start" font-weight="normal" font-family="Liberation Sans" textLength="149.2" lengthAdjust="spacingAndGlyphs" >CO + Verapamil (0.03 &#956;M)</text>
<path d="M1197.2 366.4 H1222.1" stroke="#800080" stroke-width="2.5"/>
<text x="1230.1" y="370.4" font-size="12" text-anchor="start" font-weight="normal" font-family="Liberation Sans" textLength="142" lengthAdjust="spacingAndGlyphs" >CO + Verapamil (0.3 &#956;M)</text>
<path d="M798.1 504.9L811.3 504.9L811.3 436.5L819.3 325.9L819.5 506L820.5 488.2L820.5 488.2L821.47 490.36L822.57 491.96L824.24 493.8L826.14 495.4L827.82 496.45L830.07 497.51L835.74 499.46L844 501.43L854.9 502.9L863.37 503.44L871.87 503.19L879.8 502.24L882.21 501.63L884.52 500.72L887.15 499.3L894.7 494.41L903.67 488.95L910.32 485.48L915.81 483.08L920.09 481.69L924.96 480.6L929.91 479.9L933.37 479.87L935.28 480.29L937.52 481.3L939.6 482.65L941.92 484.55L944.69 487.41L949.53 493.77L953.09 497.96L955.99 500.69L958.9 502.58L962.17 503.73L966.11 504.31L974.6 504.75L984.64 504.92L1106 504.9L1106 436.5L1114 325.9L1114.2 506L1115.2 488.2L1115.2 488.2L1116.17 490.36L1117.27 491.96L1118.94 493.8L1120.84 495.4L1122.52 496.45L1124.77 497.51L1130.44 499.46L1138.7 501.43L1149.6 502.9L1158.07 503.44L1166.57 503.19L1174.5 502.24L1176.91 501.63L1179.22 500.72L1181.85 499.3L1189.4 494.41L1198.37 488.95L1205.02 485.48L1210.51 483.08L1214.79 481.69L1219.66 480.6L1224.61 479.9L1228.07 479.87L1229.98 480.29L1232.22 481.3L1234.3 482.65L1236.62 484.55L1239.39 487.41L1244.23 493.77L1247.79 497.96L1250.69 500.69L1253.6 502.58L1256.87 503.73L1260.81 504.31L1269.3 504.75L1279.34 504.92L1398.3 504.92" fill="none" stroke="#000000" stroke-width="2.4" stroke-linejoin="round"/>
<path d="M798.1 504.9L811.3 504.9L811.3 437.5L819.3 330L819.5 506L820.5 488.2L820.5 488.2L821.47 490.36L822.57 491.96L824.24 493.8L826.14 495.4L827.82 496.45L830.07 497.51L835.74 499.46L844 501.43L854.9 502.9L863.37 503.44L871.87 503.19L879.8 502.24L882.21 501.63L884.52 500.72L887.15 499.3L895.55 493.87L903.66 488.94L909.46 486L914.99 483.69L919.75 482.16L924.62 481.06L930.05 480.25L933.52 480.21L935.43 480.62L937.23 481.4L938.9 482.46L940.83 484.04L944.29 487.63L953.12 498.49L955.66 500.87L958.15 502.48L961.42 503.6L965.86 504.24L974.84 504.77L984.64 504.92L1106 504.9L1106 437.5L1114 330L1114.2 506L1115.2 488.2L1115.2 488.2L1116.17 490.36L1117.27 491.96L1118.94 493.8L1120.84 495.4L1122.52 496.45L1124.77 497.51L1130.44 499.46L1138.7 501.43L1149.6 502.9L1158.07 503.44L1166.57 503.19L1174.5 502.24L1176.91 501.63L1179.22 500.72L1181.85 499.3L1190.25 493.87L1198.36 488.94L1204.16 486L1209.69 483.69L1214.45 482.16L1219.32 481.06L1224.75 480.25L1228.22 480.21L1230.13 480.62L1231.93 481.4L1233.6 482.46L1235.53 484.04L1238.99 487.63L1247.82 498.49L1250.36 500.87L1252.85 502.48L1256.12 503.6L1260.56 504.24L1269.54 504.77L1279.34 504.92L1398.3 504.92" fill="none" stroke="#ff0000" stroke-width="2.4" stroke-linejoin="round"/>
<path d="M798.1 504.9L811.3 504.9L811.3 438.5L819.3 335L819.5 506L820.5 488.2L820.5 488.2L821.24 489.94L822.27 491.57L823.89 493.45L825.35 494.79L828.7 496.9L833.83 498.87L841.54 500.95L849.43 502.25L859.88 503.32L867.87 503.33L872.85 502.94L877.31 502.34L880.24 501.74L883.06 500.78L886.13 499.14L893.08 494.25L899.48 490.35L904.36 487.82L908.55 486.22L913.88 484.88L921.76 483.48L928.21 482.77L932.69 482.76L934.63 483.11L936.5 483.76L938.68 484.94L940.68 486.41L943.15 488.87L948.02 495.2L951.35 498.92L954.36 501.52L956.94 502.98L960.26 503.97L965.22 504.57L974.21 504.95L984.64 504.92L1106 504.9L1106 438.5L1114 335L1114.2 506L1115.2 488.2L1115.2 488.2L1115.94 489.94L1116.97 491.57L1118.59 493.45L1120.05 494.79L1123.4 496.9L1128.53 498.87L1136.24 500.95L1144.13 502.25L1154.58 503.32L1162.57 503.33L1167.55 502.94L1172.01 502.34L1174.94 501.74L1177.76 500.78L1180.83 499.14L1187.78 494.25L1194.18 490.35L1199.06 487.82L1203.25 486.22L1208.58 484.88L1216.46 483.48L1222.91 482.77L1227.39 482.76L1229.33 483.11L1231.2 483.76L1233.38 484.94L1235.38 486.41L1237.85 488.87L1242.72 495.2L1246.05 498.92L1249.06 501.52L1251.64 502.98L1254.96 503.97L1259.92 504.57L1268.91 504.95L1279.34 504.92L1398.3 504.92" fill="none" stroke="#808000" stroke-width="2.4" stroke-linejoin="round"/>
<path d="M798.1 504.9L811.3 504.9L811.3 444.7L819.3 340L819.6 516.5L820.3 490L820.3 490L823.45 492.59L825.49 493.99L828.16 495.33L830.97 496.34L849.33 501.21L855.23 502.29L861.68 503.06L870.67 503.52L878.15 503.22L884.07 502.23L893.77 499.85L901.11 498.3L914.92 496L922.86 495.04L930.33 494.37L949.31 493.49L953.26 493.86L956.54 494.96L959.1 496.48L965.42 501.34L967.15 502.32L968.98 503.05L970.91 503.52L973.87 503.94L984.64 504.68L1106 504.9L1106 444.7L1114 340L1114.3 516.5L1115 490L1115 490L1118.15 492.59L1120.19 493.99L1122.86 495.33L1125.67 496.34L1144.03 501.21L1149.93 502.29L1156.38 503.06L1165.37 503.52L1172.85 503.22L1178.77 502.23L1188.47 499.85L1195.81 498.3L1209.62 496L1217.56 495.04L1225.03 494.37L1244.01 493.49L1247.96 493.86L1251.24 494.96L1253.8 496.48L1260.12 501.34L1261.85 502.32L1263.68 503.05L1265.61 503.52L1268.57 503.94L1279.34 504.68L1398.3 504.68" fill="none" stroke="#800080" stroke-width="2.4" stroke-linejoin="round"/>
<path d="M855.46 396.28L863.87 395.05L869.22 393.86L873.89 392.16L878.74 389.6L884.15 386.02L890.96 380.94L905.81 368.31L913.35 362.53L920.33 357.68L929.52 351.65L935.46 347.94L940.25 345.25L947.96 341.69L955.5 339.06L961.83 337.67L964.8 337.36L968.28 337.31L971.76 337.55L975.22 338.05L978.14 338.67L980.98 339.55L983.24 340.53L985.38 341.76L989.23 344.87L994.21 350.45L1001.79 360.38L1009.45 371.5L1017 383.28L1019.6 386.94L1023.27 391L1027.51 394.45L1030.47 396.29L1033.14 397.6L1035.93 398.63L1038.82 399.38L1042.75 400.06L1048.71 400.74L1060.65 401.52" fill="none" stroke="#000000" stroke-width="3.4" stroke-linecap="butt" stroke-linejoin="round"/>
<path d="M855.46 396.28L863.31 394.75L868.15 393.52L872.35 391.97L876.76 389.66L881.73 386.33L888.49 381.17L893.91 376.75L904.5 367.59L910.84 362.73L916.21 359.08L922.16 355.38L928.66 351.65L934.41 348.62L939.38 346.27L943.99 344.35L949.17 342.5L953.95 341.06L958.32 340.01L962.26 339.33L966.23 338.97L969.72 338.94L973.2 339.17L976.65 339.66L979.56 340.31L982.38 341.24L984.63 342.27L987.17 343.81L989.54 345.61L991.77 347.61L996.19 352.35L1000.47 357.88L1013.43 378.66L1017.94 385.26L1022.48 390.56L1024.68 392.57L1026.65 394.06L1028.77 395.35L1031.46 396.6L1034.28 397.58L1037.65 398.45L1049.46 400.57L1060.65 401.87" fill="none" stroke="#ff0000" stroke-width="3.4" stroke-linecap="butt" stroke-linejoin="round"/>
<path d="M855.46 395.41L866.9 391.82L870.59 390.28L873.68 388.68L879.07 385.08L888.9 377.37L896.53 371.71L906 365.19L910.29 362.63L915.14 360.04L929.19 353.51L938.92 349.57L943.21 348.25L947.1 347.34L952.03 346.52L957.99 345.86L963.47 345.55L967.97 345.56L974.92 346.18L980.24 347.39L982.53 348.3L984.69 349.48L988.61 352.51L992.76 356.82L996.79 361.91L1010.03 381.92L1014.11 387.59L1016.37 390.26L1018.81 392.74L1021.09 394.66L1023.14 396.05L1025.32 397.21L1028.08 398.3L1030.95 399.11L1034.87 399.86L1046.78 401.2L1060.65 401.87" fill="none" stroke="#808000" stroke-width="3.4" stroke-linecap="butt" stroke-linejoin="round"/>
<path d="M855.46 398.03L866.94 397.3L873.86 396.36L881.63 394.49L902.68 388.11L908.98 386.52L914.88 385.48L940.62 381.78L963.7 377.42L971.13 376.39L977.59 375.74L994.57 374.96L1008.51 373.67L1014.49 373.41L1017.97 373.59L1020.9 374.07L1023.73 374.92L1026.4 376.18L1028.87 377.81L1031.15 379.72L1042.02 390.75L1044.24 392.74L1046.22 394.22L1048.79 395.69L1051.53 396.84L1060.65 399.43" fill="none" stroke="#800080" stroke-width="3.4" stroke-linecap="butt" stroke-linejoin="round"/>
<path d="M841.9 300.8L1078.5 300.8" fill="none" stroke="#0a64c4" stroke-width="3.4" stroke-dasharray="3.400 6.739" stroke-linecap="round"/>
<path d="M841.9 300.8L841.9 436.8" fill="none" stroke="#0a64c4" stroke-width="3.4" stroke-dasharray="3.400 6.800" stroke-linecap="round"/>
<path d="M841.9 436.8L1078.5 436.8" fill="none" stroke="#0a64c4" stroke-width="3.4" stroke-dasharray="3.400 6.739" stroke-linecap="round"/>
<path d="M1078.5 300.8L1078.5 436.8" fill="none" stroke="#0a64c4" stroke-width="3.4" stroke-dasharray="3.400 6.800" stroke-linecap="round"/>
<path d="M882.9 473.4L974.5 473.4" fill="none" stroke="#0a64c4" stroke-width="3.4" stroke-dasharray="3.400 6.400" stroke-linecap="round"/>
<path d="M882.9 473.4L882.9 515.1" fill="none" stroke="#0a64c4" stroke-width="3.4" stroke-dasharray="3.400 6.175" stroke-linecap="round"/>
<path d="M882.9 515.1L974.5 515.1" fill="none" stroke="#0a64c4" stroke-width="3.4" stroke-dasharray="3.400 6.400" stroke-linecap="round"/>
<path d="M974.5 473.4L974.5 515.1" fill="none" stroke="#0a64c4" stroke-width="3.4" stroke-dasharray="3.400 6.175" stroke-linecap="round"/>
<path d="M922.2 467.3 L943.4 445.4 M938 460.9 L943.4 445.4 L928.1 451.3" fill="none" stroke="#0a64c4" stroke-width="2.1" stroke-linecap="butt" stroke-linejoin="miter"/>
<path d="M81.5 583 V828.3" stroke="#000" stroke-width="2.4" fill="none"/>
<path d="M77.9 792.3 H81.5" stroke="#000" stroke-width="1.4" fill="none"/>
<g transform="matrix(1.2141 0 0 1.2263 -15.71 75.81)">
<text x="73.2" y="590" font-size="17" text-anchor="end" font-weight="normal" font-family="Liberation Sans" >0.0</text>
</g>
<path d="M77.9 722.8 H81.5" stroke="#000" stroke-width="1.4" fill="none"/>
<g transform="matrix(1.2141 0 0 1.2263 -15.71 6.31)">
<text x="73.2" y="590" font-size="17" text-anchor="end" font-weight="normal" font-family="Liberation Sans" >0.1</text>
</g>
<path d="M77.9 653.3 H81.5" stroke="#000" stroke-width="1.4" fill="none"/>
<g transform="matrix(1.2141 0 0 1.2263 -15.71 -63.19)">
<text x="73.2" y="590" font-size="17" text-anchor="end" font-weight="normal" font-family="Liberation Sans" >0.2</text>
</g>
<path d="M77.9 583.8 H81.5" stroke="#000" stroke-width="1.4" fill="none"/>
<g transform="matrix(1.2141 0 0 1.2263 -15.71 -132.69)">
<text x="73.2" y="590" font-size="17" text-anchor="end" font-weight="normal" font-family="Liberation Sans" >0.3</text>
</g>
<g transform="matrix(1.0932 0 0 1.1829 -4.38 -129.53)">
<text transform="translate(34.5 705.9) rotate(-90)" font-size="18" text-anchor="middle" font-family="Liberation Sans"><tspan font-style="italic">&#981;</tspan> (mV)</text>
</g>
<g transform="matrix(0.9703 0 0 1.0489 -0.50 -29.10)">
<text x="0.7" y="589.9" font-size="41" text-anchor="start" font-weight="bold" font-family="Liberation Sans" >E</text>
</g>
<path d="M467.2 599.4 H492.8" stroke="#000000" stroke-width="2.5"/>
<text x="500.8" y="603.4" font-size="12" text-anchor="start" font-weight="normal" font-family="Liberation Sans" textLength="16.8" lengthAdjust="spacingAndGlyphs" >CO</text>
<path d="M467.2 617.5 H492.8" stroke="#ff0000" stroke-width="2.5"/>
<text x="500.8" y="621.5" font-size="12" text-anchor="start" font-weight="normal" font-family="Liberation Sans" textLength="170.2" lengthAdjust="spacingAndGlyphs" >CO + Vanoxerine (0.0005 &#956;M)</text>
<path d="M467.2 635.6 H492.8" stroke="#808000" stroke-width="2.5"/>
<text x="500.8" y="639.6" font-size="12" text-anchor="start" font-weight="normal" font-family="Liberation Sans" textLength="163" lengthAdjust="spacingAndGlyphs" >CO + Vanoxerine (0.005 &#956;M)</text>
<path d="M467.2 653.7 H492.8" stroke="#800080" stroke-width="2.5"/>
<text x="500.8" y="657.7" font-size="12" text-anchor="start" font-weight="normal" font-family="Liberation Sans" textLength="155.8" lengthAdjust="spacingAndGlyphs" >CO + Vanoxerine (0.05 &#956;M)</text>
<path d="M81.5 792.3L95.6 792.3L95.6 723.5L103.1 614.1L103.4 792L103.8 780L103.8 780L106.21 779.77L107.98 780.16L109.45 781.25L112.05 784.16L114.04 785.56L117.27 786.8L122.16 787.81L132.59 789.02L145.56 789.85L154.55 789.98L162.53 789.47L167.42 788.52L171.1 787.03L173.63 785.44L180.03 780.66L185.51 777.16L191.58 773.68L197.01 771.13L203.06 768.75L207.85 767.35L211.78 766.73L215.77 766.7L219.23 767.14L222.13 767.88L224.43 768.8L226.52 770.1L228.34 771.77L230.29 774.04L232.71 777.22L236.39 782.57L238.68 785.2L242.13 788.04L243.85 789.03L246.15 789.98L249.04 790.72L252.5 791.19L267.47 792.05L274.97 792.23L291.01 792.22L390.3 792.3L390.3 723.5L397.8 614.1L398.1 792L398.5 780L398.5 780L400.91 779.77L402.68 780.16L404.15 781.25L406.75 784.16L408.74 785.56L411.97 786.8L416.86 787.81L427.29 789.02L440.26 789.85L449.25 789.98L457.23 789.47L462.12 788.52L465.8 787.03L468.33 785.44L474.73 780.66L480.21 777.16L486.28 773.68L491.71 771.13L497.76 768.75L502.55 767.35L506.48 766.73L510.47 766.7L513.93 767.14L516.83 767.88L519.13 768.8L521.22 770.1L523.04 771.77L524.99 774.04L527.41 777.22L531.09 782.57L533.38 785.2L536.83 788.04L538.55 789.03L540.85 789.98L543.74 790.72L547.2 791.19L562.17 792.05L569.67 792.23L585.71 792.22L681.7 792.22" fill="none" stroke="#000000" stroke-width="2.4" stroke-linejoin="round"/>
<path d="M81.5 792.3L95.6 792.3L95.6 723.5L103.1 616L103.4 792L103.8 780L103.8 780L106.21 779.77L107.98 780.16L109.45 781.25L112.05 784.16L114.04 785.56L117.27 786.8L122.16 787.81L132.59 789.02L145.06 789.83L154.05 789.99L162.03 789.52L166.94 788.63L171.12 787.05L173.69 785.52L180.2 780.89L186.16 777.22L191.84 774.06L197.29 771.55L202.88 769.38L207.66 767.94L211.59 767.28L215.07 767.23L218.04 767.6L220.94 768.3L223.72 769.39L225.83 770.68L227.7 772.31L230.04 774.9L235.55 782.62L237.83 785.25L241.28 788.1L243 789.08L245.3 790L248.2 790.72L251.67 791.18L267.64 792.06L275.14 792.23L291.01 792.22L390.3 792.3L390.3 723.5L397.8 616L398.1 792L398.5 780L398.5 780L400.91 779.77L402.68 780.16L404.15 781.25L406.75 784.16L408.74 785.56L411.97 786.8L416.86 787.81L427.29 789.02L439.76 789.83L448.75 789.99L456.73 789.52L461.64 788.63L465.82 787.05L468.39 785.52L474.9 780.89L480.86 777.22L486.54 774.06L491.99 771.55L497.58 769.38L502.36 767.94L506.29 767.28L509.77 767.23L512.74 767.6L515.64 768.3L518.42 769.39L520.53 770.68L522.4 772.31L524.74 774.9L530.25 782.62L532.53 785.25L535.98 788.1L537.7 789.08L540 790L542.9 790.72L546.37 791.18L562.34 792.06L569.84 792.23L585.71 792.22L681.7 792.22" fill="none" stroke="#ff0000" stroke-width="2.4" stroke-linejoin="round"/>
<path d="M81.5 792.3L95.6 792.3L95.6 725L103.6 620L104.3 791.8L104.5 779L104.5 779L106.41 778.93L108.13 779.4L112.13 782.73L113.86 783.66L116.18 784.58L124.29 787.11L131.59 788.82L138.01 789.78L144.99 790.31L154.99 790.5L163.48 790.23L168.94 789.64L173.32 788.63L176.13 787.62L183.95 784.28L193.35 780.89L208.05 775.96L216.19 773.52L222.03 772.16L228.43 771.05L236.37 770.06L239.81 769.95L242.08 770.59L244.1 771.94L252.18 780.1L257.62 785.26L261.56 788.32L265 790.32L268.3 791.37L272.75 791.94L278.74 792.17L291.01 792.22L390.3 792.3L390.3 725L398.3 620L399 791.8L399.2 779L399.2 779L401.11 778.93L402.83 779.4L406.83 782.73L408.56 783.66L410.88 784.58L418.99 787.11L426.29 788.82L432.71 789.78L439.69 790.31L449.69 790.5L458.18 790.23L463.64 789.64L468.02 788.63L470.83 787.62L478.65 784.28L488.05 780.89L502.75 775.96L510.89 773.52L516.73 772.16L523.13 771.05L531.07 770.06L534.51 769.95L536.78 770.59L538.8 771.94L546.88 780.1L552.32 785.26L556.26 788.32L559.7 790.32L563 791.37L567.45 791.94L573.44 792.17L585.71 792.22L681.7 792.22" fill="none" stroke="#808000" stroke-width="2.4" stroke-linejoin="round"/>
<path d="M81.5 792.3L95.6 792.3L95.6 738.8L106.6 644.7L107.3 788.2L107.8 776L107.8 776L109.32 775.84L110.35 776.3L111.22 777.26L113.31 780.57L114.59 782.05L116.58 783.42L118.89 784.3L132.41 787.89L145.59 790.81L154.45 792.37L163.4 793.31L169.39 793.55L175.39 793.44L182.38 792.98L191.83 792.06L218.66 789.02L254.35 784.32L279.76 782.27L288.22 781.38L299.11 779.86L308.41 777.94L311.36 777.6L314.28 777.93L315.67 778.4L317.43 779.31L320.29 781.31L327.12 787.13L330.05 789.03L333.14 790.65L335.47 791.51L337.9 792.01L344.47 792.22L390.3 792.3L390.3 738.8L401.3 644.7L402 788.2L402.5 776L402.5 776L404.02 775.84L405.05 776.3L405.92 777.26L408.01 780.57L409.29 782.05L411.28 783.42L413.59 784.3L427.11 787.89L440.29 790.81L449.15 792.37L458.1 793.31L464.09 793.55L470.09 793.44L477.08 792.98L486.53 792.06L513.36 789.02L549.05 784.32L574.46 782.27L582.92 781.38L593.81 779.86L603.11 777.94L606.06 777.6L608.98 777.93L610.37 778.4L612.13 779.31L614.99 781.31L621.82 787.13L624.75 789.03L627.84 790.65L630.17 791.51L632.6 792.01L639.17 792.22L681.7 792.22" fill="none" stroke="#800080" stroke-width="2.4" stroke-linejoin="round"/>
<path d="M136.35 678.17L142.38 675.76L146.45 673.86L149.9 671.86L153.52 669.22L157.64 665.59L162.64 660.69L171.02 652.11L181.23 641.12L186.25 636.25L190.04 632.99L194.38 629.62L206.71 621.08L212.18 617.57L216.94 614.83L220.96 612.82L225.57 610.9L230.3 609.31L235.14 608.12L239.09 607.56L243.06 607.45L246.03 607.7L248.95 608.27L251.8 609.13L255 610.49L257.61 611.93L260.05 613.63L262.29 615.58L264.65 618.14L267.58 622.16L270.66 627.31L278.72 642.27L286.77 657.81L291.02 665.17L294.34 670.16L297.37 674.12L300.07 677.04L303.12 679.56L306.11 681.27L309.35 682.46L313.24 683.32L319.17 684.12L328.15 684.65L356.38 685.16" fill="none" stroke="#000000" stroke-width="3.4" stroke-linecap="butt" stroke-linejoin="round"/>
<path d="M136.35 679.04L142.38 676.63L146.45 674.74L149.9 672.74L153.13 670.4L157.27 666.8L162.29 661.92L170.67 653.34L181.21 641.97L186.26 637.14L189.73 634.28L193.76 631.33L208.4 621.75L213.48 618.56L217.83 616.11L221.89 614.18L226.08 612.56L230.85 611.11L235.24 610.15L239.69 609.57L243.67 609.47L246.63 609.71L249.55 610.26L252.4 611.14L255.13 612.32L257.72 613.78L260.14 615.51L262.39 617.47L264.8 619.99L269.08 625.51L274.53 633.89L280.72 644.17L289.48 659.89L293.5 666.21L296.77 670.63L299.68 674.05L302.51 676.85L305.64 679.28L308.21 680.75L311.43 682.02L315.29 682.99L319.72 683.7L327.69 684.33L356.38 685.51" fill="none" stroke="#ff0000" stroke-width="3.4" stroke-linecap="butt" stroke-linejoin="round"/>
<path d="M136.35 682.54L147.42 679.47L151.62 677.87L156.14 675.76L161.85 672.65L168.27 668.77L188.13 655.31L197.13 649.92L204.29 646.35L220.27 639.22L238.33 630.64L245.63 627.37L250.74 625.34L255.94 623.54L261.21 622L267.04 620.57L273.41 619.3L280.82 618.13L286.76 617.37L291.24 617.11L294.22 617.22L296.68 617.54L299.08 618.1L301.4 618.93L303.6 620.04L305.66 621.4L310.15 625.33L314.43 630.2L318.2 635.48L321.3 640.61L331.33 658.48L336.65 666.95L340.16 671.8L343.18 675.09L346.68 677.84L350.58 680L356.38 682.54" fill="none" stroke="#808000" stroke-width="3.4" stroke-linecap="butt" stroke-linejoin="round"/>
<path d="M136.35 691.27L149.35 690.95L157.34 690.55L164.8 689.87L174.22 688.66L193.01 685.81L258.6 674.87L268.44 673.08L291.48 668.47L313.18 664.81L324.06 663.2L332.49 662.17L356.38 660.18" fill="none" stroke="#800080" stroke-width="3.4" stroke-linecap="butt" stroke-linejoin="round"/>
<path d="M128.4 587.2L364.3 587.2" fill="none" stroke="#0a64c4" stroke-width="3.4" stroke-dasharray="3.400 6.709" stroke-linecap="round"/>
<path d="M128.4 587.2L128.4 723" fill="none" stroke="#0a64c4" stroke-width="3.4" stroke-dasharray="3.400 6.785" stroke-linecap="round"/>
<path d="M128.4 723L364.3 723" fill="none" stroke="#0a64c4" stroke-width="3.4" stroke-dasharray="3.400 6.709" stroke-linecap="round"/>
<path d="M364.3 587.2L364.3 723" fill="none" stroke="#0a64c4" stroke-width="3.4" stroke-dasharray="3.400 6.785" stroke-linecap="round"/>
<path d="M167.4 759.7L270.6 759.7" fill="none" stroke="#0a64c4" stroke-width="3.4" stroke-dasharray="3.400 6.580" stroke-linecap="round"/>
<path d="M167.4 759.7L167.4 801.8" fill="none" stroke="#0a64c4" stroke-width="3.4" stroke-dasharray="3.400 6.275" stroke-linecap="round"/>
<path d="M167.4 801.8L270.6 801.8" fill="none" stroke="#0a64c4" stroke-width="3.4" stroke-dasharray="3.400 6.580" stroke-linecap="round"/>
<path d="M270.6 759.7L270.6 801.8" fill="none" stroke="#0a64c4" stroke-width="3.4" stroke-dasharray="3.400 6.275" stroke-linecap="round"/>
<path d="M205.4 753.5 L227.5 731.5 M221.9 746.9 L227.5 731.5 L212.1 737.1" fill="none" stroke="#0a64c4" stroke-width="2.1" stroke-linecap="butt" stroke-linejoin="miter"/>
<path d="M797.8 583 V828.3" stroke="#000" stroke-width="2.4" fill="none"/>
<path d="M794.2 792.3 H797.8" stroke="#000" stroke-width="1.4" fill="none"/>
<g transform="matrix(1.2485 0 0 1.2263 -196.10 75.81)">
<text x="789.5" y="590" font-size="17" text-anchor="end" font-weight="normal" font-family="Liberation Sans" >0.0</text>
</g>
<path d="M794.2 722.8 H797.8" stroke="#000" stroke-width="1.4" fill="none"/>
<g transform="matrix(1.2485 0 0 1.2263 -196.10 6.31)">
<text x="789.5" y="590" font-size="17" text-anchor="end" font-weight="normal" font-family="Liberation Sans" >0.1</text>
</g>
<path d="M794.2 653.3 H797.8" stroke="#000" stroke-width="1.4" fill="none"/>
<g transform="matrix(1.2485 0 0 1.2263 -196.10 -63.19)">
<text x="789.5" y="590" font-size="17" text-anchor="end" font-weight="normal" font-family="Liberation Sans" >0.2</text>
</g>
<path d="M794.2 583.8 H797.8" stroke="#000" stroke-width="1.4" fill="none"/>
<g transform="matrix(1.2485 0 0 1.2263 -196.10 -132.69)">
<text x="789.5" y="590" font-size="17" text-anchor="end" font-weight="normal" font-family="Liberation Sans" >0.3</text>
</g>
<g transform="matrix(1.0932 0 0 1.1829 -70.24 -129.53)">
<text transform="translate(750.8 705.9) rotate(-90)" font-size="18" text-anchor="middle" font-family="Liberation Sans"><tspan font-style="italic">&#981;</tspan> (mV)</text>
</g>
<g transform="matrix(0.9587 0 0 1.0679 29.94 -40.33)">
<text x="716" y="589.9" font-size="41" text-anchor="start" font-weight="bold" font-family="Liberation Sans" >F</text>
</g>
<path d="M1211.8 599.5 H1236.7" stroke="#000000" stroke-width="2.5"/>
<text x="1244.9" y="603.5" font-size="12" text-anchor="start" font-weight="normal" font-family="Liberation Sans" textLength="16.8" lengthAdjust="spacingAndGlyphs" >CO</text>
<path d="M1211.8 617.5 H1236.7" stroke="#ff0000" stroke-width="2.5"/>
<text x="1244.9" y="621.5" font-size="12" text-anchor="start" font-weight="normal" font-family="Liberation Sans" textLength="141.8" lengthAdjust="spacingAndGlyphs" >CO + Bepridil (0.001 &#956;M)</text>
<path d="M1211.8 635.5 H1236.7" stroke="#808000" stroke-width="2.5"/>
<text x="1244.9" y="639.5" font-size="12" text-anchor="start" font-weight="normal" font-family="Liberation Sans" textLength="134.7" lengthAdjust="spacingAndGlyphs" >CO + Bepridil (0.01 &#956;M)</text>
<path d="M1211.8 653.5 H1236.7" stroke="#800080" stroke-width="2.5"/>
<text x="1244.9" y="657.5" font-size="12" text-anchor="start" font-weight="normal" font-family="Liberation Sans" textLength="127.5" lengthAdjust="spacingAndGlyphs" >CO + Bepridil (0.1 &#956;M)</text>
<path d="M797.8 792.3L811.4 792.3L811.4 725L819.2 613L819.6 792L820 776L820 776L822.01 777.41L826.07 781.68L828.77 783.88L832.25 785.82L836.48 787.3L845.28 789.16L855.19 790.48L865.17 791.06L873.66 790.86L877.14 790.49L880.57 789.87L883.93 788.91L886.7 787.78L890.61 785.57L906.58 775.29L911 772.95L916.48 770.52L920.7 768.97L924.56 767.94L928.01 767.47L931.5 767.5L934.45 767.94L936.84 768.62L939.08 769.66L940.69 770.79L942.46 772.53L944.36 774.84L950.13 782.99L952.37 785.67L955.8 788.52L957.53 789.51L959.83 790.43L964.7 791.48L971.67 792L985.17 792.3L1006.01 792.22L1106.1 792.3L1106.1 725L1113.9 613L1114.3 792L1114.7 776L1114.7 776L1116.71 777.41L1120.77 781.68L1123.47 783.88L1126.95 785.82L1131.18 787.3L1139.98 789.16L1149.89 790.48L1159.87 791.06L1168.36 790.86L1171.84 790.49L1175.27 789.87L1178.63 788.91L1181.4 787.78L1185.31 785.57L1201.28 775.29L1205.7 772.95L1211.18 770.52L1215.4 768.97L1219.26 767.94L1222.71 767.47L1226.2 767.5L1229.15 767.94L1231.54 768.62L1233.78 769.66L1235.39 770.79L1237.16 772.53L1239.06 774.84L1244.83 782.99L1247.07 785.67L1250.5 788.52L1252.23 789.51L1254.53 790.43L1259.4 791.48L1266.37 792L1279.87 792.3L1300.71 792.22L1398 792.22" fill="none" stroke="#000000" stroke-width="2.4" stroke-linejoin="round"/>
<path d="M797.8 792.3L811.4 792.3L811.4 725L819.2 613L819.6 792L820 776L820 776L822.01 777.41L826.07 781.68L828.77 783.88L832.25 785.82L836.48 787.3L845.28 789.16L855.19 790.48L865.17 791.06L873.66 790.86L877.14 790.49L880.57 789.87L883.93 788.91L886.7 787.78L890.61 785.57L906.58 775.29L911 772.95L916.48 770.52L920.7 768.97L924.56 767.94L928.01 767.47L931.5 767.5L934.45 767.94L936.84 768.62L939.08 769.66L940.69 770.79L942.46 772.53L944.36 774.84L950.13 782.99L952.37 785.67L955.8 788.52L957.53 789.51L959.83 790.43L964.7 791.48L971.67 792L985.17 792.3L1006.01 792.22L1106.1 792.3L1106.1 725L1113.9 613L1114.3 792L1114.7 776L1114.7 776L1116.71 777.41L1120.77 781.68L1123.47 783.88L1126.95 785.82L1131.18 787.3L1139.98 789.16L1149.89 790.48L1159.87 791.06L1168.36 790.86L1171.84 790.49L1175.27 789.87L1178.63 788.91L1181.4 787.78L1185.31 785.57L1201.28 775.29L1205.7 772.95L1211.18 770.52L1215.4 768.97L1219.26 767.94L1222.71 767.47L1226.2 767.5L1229.15 767.94L1231.54 768.62L1233.78 769.66L1235.39 770.79L1237.16 772.53L1239.06 774.84L1244.83 782.99L1247.07 785.67L1250.5 788.52L1252.23 789.51L1254.53 790.43L1259.4 791.48L1266.37 792L1279.87 792.3L1300.71 792.22L1398 792.22" fill="none" stroke="#ff0000" stroke-width="2.4" stroke-linejoin="round"/>
<path d="M797.8 792.3L811.4 792.3L811.4 725L819.2 613L819.6 792L820 776L820 776L822.01 777.41L826.07 781.68L828.77 783.88L832.25 785.82L836.48 787.3L845.28 789.16L855.19 790.48L865.17 791.03L874.16 790.85L878.14 790.46L881.58 789.85L884.47 789.06L887.25 787.97L891.22 785.86L907.53 776.14L915.13 772.32L920.18 770.15L923.5 769.09L926.44 768.51L929.92 768.23L933.91 768.34L936.88 768.71L939.79 769.37L942.09 770.26L943.74 771.31L945.8 773.42L952.53 782.73L955.1 785.77L958.2 788.24L959.95 789.2L962.25 790.13L967.58 791.41L974.54 792.04L985.04 792.3L1006.01 792.22L1106.1 792.3L1106.1 725L1113.9 613L1114.3 792L1114.7 776L1114.7 776L1116.71 777.41L1120.77 781.68L1123.47 783.88L1126.95 785.82L1131.18 787.3L1139.98 789.16L1149.89 790.48L1159.87 791.03L1168.86 790.85L1172.84 790.46L1176.28 789.85L1179.17 789.06L1181.95 787.97L1185.92 785.86L1202.23 776.14L1209.83 772.32L1214.88 770.15L1218.2 769.09L1221.14 768.51L1224.62 768.23L1228.61 768.34L1231.58 768.71L1234.49 769.37L1236.79 770.26L1238.44 771.31L1240.5 773.42L1247.23 782.73L1249.8 785.77L1252.9 788.24L1254.65 789.2L1256.95 790.13L1262.28 791.41L1269.24 792.04L1279.74 792.3L1300.71 792.22L1398 792.22" fill="none" stroke="#808000" stroke-width="2.4" stroke-linejoin="round"/>
<path d="M797.8 792.3L811.4 792.3L811.4 726L819.5 621L819.8 792L820.2 776L820.2 776L821.77 777.17L826.15 781.75L828.84 783.97L832.25 786.02L836.44 787.62L840.31 788.61L845.22 789.55L860.55 791.79L868.51 792.58L876.01 792.72L882.99 792.32L889.43 791.43L894.77 790.16L906.68 786.37L913.98 784.67L944.89 778.62L969.99 774.12L979.87 772.54L983.81 772.27L986.17 772.79L988.69 774.28L991.98 777.32L1000.72 786.24L1003.85 788.72L1006.87 790.42L1010.19 791.41L1014.65 791.96L1020.64 792.17L1032.74 792.22L1106.1 792.3L1106.1 726L1114.2 621L1114.5 792L1114.9 776L1114.9 776L1116.47 777.17L1120.85 781.75L1123.54 783.97L1126.95 786.02L1131.14 787.62L1135.01 788.61L1139.92 789.55L1155.25 791.79L1163.21 792.58L1170.71 792.72L1177.69 792.32L1184.13 791.43L1189.47 790.16L1201.38 786.37L1208.68 784.67L1239.59 778.62L1264.69 774.12L1274.57 772.54L1278.51 772.27L1280.87 772.79L1283.39 774.28L1286.68 777.32L1295.42 786.24L1298.55 788.72L1301.57 790.42L1304.89 791.41L1309.35 791.96L1315.34 792.17L1327.44 792.22L1398 792.22" fill="none" stroke="#800080" stroke-width="2.4" stroke-linejoin="round"/>
<path d="M853.46 677.3L863.44 676.64L869.35 675.74L872.22 674.95L874.55 674.09L878.91 671.74L882.05 669.32L885.23 666.17L895.41 653.21L901.72 646.11L908.37 639.33L914.3 633.96L921.84 628.21L925.61 625.76L928.66 624.05L931.36 622.79L934.16 621.8L936.56 621.28L938.99 621.11L940.93 621.26L942.83 621.67L944.65 622.34L946.39 623.23L949.54 625.59L952.52 628.89L954.73 632.2L956.6 635.72L964.48 654.63L967.55 660.91L970.68 666.61L973.43 670.76L976.01 673.77L978.62 676.02L981.58 677.78L984.33 678.86L987.7 679.73L991.64 680.34L996.12 680.66L1022.11 680.85L1063.89 680.79" fill="none" stroke="#000000" stroke-width="3.4" stroke-linecap="butt" stroke-linejoin="round"/>
<path d="M853.46 677.3L863.44 676.64L869.35 675.74L872.22 674.95L874.55 674.09L878.91 671.74L882.05 669.32L885.23 666.17L895.41 653.21L901.72 646.11L908.37 639.33L914.3 633.96L921.84 628.21L925.61 625.76L928.66 624.05L931.36 622.79L934.16 621.8L936.56 621.28L938.99 621.11L940.93 621.26L942.83 621.67L944.65 622.34L946.39 623.23L949.54 625.59L952.52 628.89L954.73 632.2L956.6 635.72L964.48 654.63L967.55 660.91L970.68 666.61L973.43 670.76L976.01 673.77L978.62 676.02L981.58 677.78L984.33 678.86L987.7 679.73L991.64 680.34L996.12 680.66L1022.11 680.85L1063.89 680.79" fill="none" stroke="#ff0000" stroke-width="3.4" stroke-linecap="butt" stroke-linejoin="round"/>
<path d="M853.46 678.69L863.93 677.95L870.34 676.95L873.73 676.1L877.04 675.02L879.79 673.86L882.41 672.44L885.62 670.12L888.81 666.99L898.57 654.35L905.24 646.9L911.63 640.57L918.45 634.71L925.67 629.35L928.64 627.52L931.3 626.17L934.54 624.89L937.4 624.08L940.34 623.56L943.3 623.38L947.19 623.8L949.07 624.34L950.84 625.12L952.5 626.14L954.03 627.36L956.71 630.25L959.3 633.91L961.8 638.23L963.97 642.73L970.05 656.44L973.28 662.65L976.28 667.83L978.83 671.52L981.13 674.11L983.78 676.3L986.34 677.75L989.1 678.81L991.99 679.55L995.43 680.11L998.9 680.37L1063.89 680.79" fill="none" stroke="#808000" stroke-width="3.4" stroke-linecap="butt" stroke-linejoin="round"/>
<path d="M853.46 682.54L863.94 681.89L870.39 681.14L877.24 679.75L884.45 677.71L890.11 675.71L896.09 673.18L919.93 661.64L937.8 655.22L958.61 646.66L964.77 644.6L972.94 642.26L991.34 637.55L1000.4 634.79L1004.23 634.19L1007.06 634.5L1009.72 635.55L1012.1 637.22L1014.87 640.03L1017 642.79L1019.78 646.94L1033.36 669.1L1036.1 672.64L1038.97 675.34L1041 676.73L1043.19 677.86L1045.96 678.92L1048.84 679.72L1054.74 680.66L1063.89 681.14" fill="none" stroke="#800080" stroke-width="3.4" stroke-linecap="butt" stroke-linejoin="round"/>
<path d="M839.9 587.2L1076.2 587.2" fill="none" stroke="#0a64c4" stroke-width="3.4" stroke-dasharray="3.400 6.726" stroke-linecap="round"/>
<path d="M839.9 587.2L839.9 723" fill="none" stroke="#0a64c4" stroke-width="3.4" stroke-dasharray="3.400 6.785" stroke-linecap="round"/>
<path d="M839.9 723L1076.2 723" fill="none" stroke="#0a64c4" stroke-width="3.4" stroke-dasharray="3.400 6.726" stroke-linecap="round"/>
<path d="M1076.2 587.2L1076.2 723" fill="none" stroke="#0a64c4" stroke-width="3.4" stroke-dasharray="3.400 6.785" stroke-linecap="round"/>
<path d="M880 759.3L1020.2 759.3" fill="none" stroke="#0a64c4" stroke-width="3.4" stroke-dasharray="3.400 7.123" stroke-linecap="round"/>
<path d="M880 759.3L880 801.1" fill="none" stroke="#0a64c4" stroke-width="3.4" stroke-dasharray="3.400 6.200" stroke-linecap="round"/>
<path d="M880 801.1L1020.2 801.1" fill="none" stroke="#0a64c4" stroke-width="3.4" stroke-dasharray="3.400 7.123" stroke-linecap="round"/>
<path d="M1020.2 759.3L1020.2 801.1" fill="none" stroke="#0a64c4" stroke-width="3.4" stroke-dasharray="3.400 6.200" stroke-linecap="round"/>
<path d="M918.3 753.5 L940.1 731.5 M934.6 746.9 L940.1 731.5 L924.7 737.2" fill="none" stroke="#0a64c4" stroke-width="2.1" stroke-linecap="butt" stroke-linejoin="miter"/>
<path d="M1115.5 176.6 L1128.1 149.5 L1128.6 163.3 L1155.1 142.5 L1158.1 146.5 L1132.6 166.9 L1145.1 170.6 Z" fill="#ff0000"/>
<path d="M1338.9 822.8 H1396.5" stroke="#000" stroke-width="2.4"/>
<text x="1338" y="844.3" font-size="21" text-anchor="start" font-weight="bold" font-family="Liberation Serif" textLength="62.6" lengthAdjust="spacingAndGlyphs" >200 ms</text>
</svg></body></html>
